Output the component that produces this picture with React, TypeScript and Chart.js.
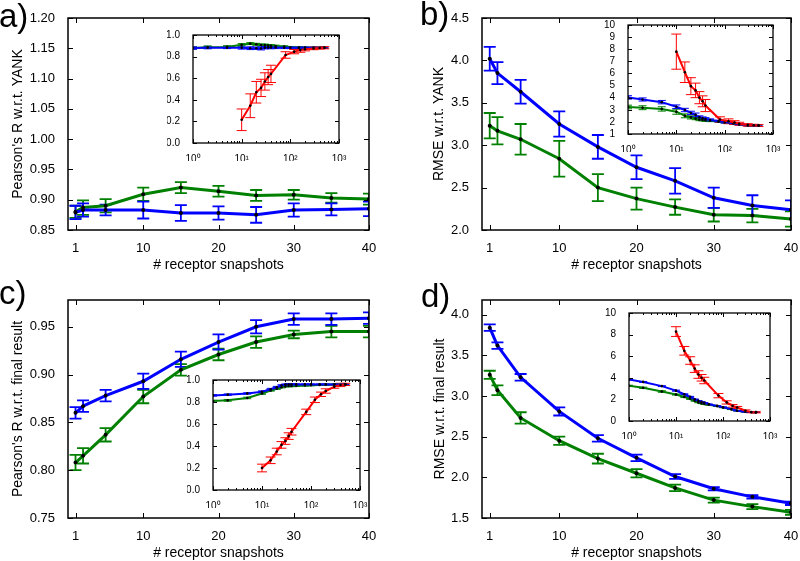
import React, { useEffect, useRef } from 'react';
import { Chart, registerables } from 'chart.js';

Chart.register(...registerables);

const FONT = "'Liberation Sans', Arial, Helvetica, sans-serif";
const BLUE = '#0000ff';
const GREEN = '#008000';
const RED = '#ff0000';

// ---------- shared x values / ticks ----------
const SNAPSHOTS = [1, 2, 5, 10, 15, 20, 25, 30, 35, 40];
const SNAPSHOT_TICKS = [1, 10, 20, 30, 40];
const INSET_X = [1, 2, 5, 10, 15, 20, 25, 30, 35, 40, 50, 75, 100, 150, 200, 300, 500];
const INSET_RED_X = [10, 15, 20, 25, 30, 35, 40, 80, 120, 160, 200, 300, 400, 500];
const LOG_TICKS = [1, 2, 3, 4, 5, 6, 7, 8, 9, 10, 20, 30, 40, 50, 60, 70, 80, 90, 100, 200, 300, 400, 500, 600, 700, 800, 900, 1000];
const SUPERSCRIPTS = ['\u2070', '\u00b9', '\u00b2', '\u00b3'];

// ---------- panel a ----------
const A_GREEN = [0.880, 0.887, 0.890, 0.909, 0.920, 0.914, 0.907, 0.908, 0.903, 0.901];
const A_GREEN_ERR = [0.010, 0.012, 0.011, 0.011, 0.009, 0.009, 0.009, 0.008, 0.008, 0.009];
const A_BLUE = [0.879, 0.883, 0.883, 0.883, 0.878, 0.878, 0.875, 0.883, 0.884, 0.885];
const A_BLUE_ERR = [0.011, 0.011, 0.009, 0.014, 0.013, 0.011, 0.013, 0.011, 0.010, 0.012];
const A_Y_TICKS = [0.85, 0.90, 0.95, 1.00, 1.05, 1.10, 1.15, 1.20];

const A_IN_BLUE = [0.879, 0.883, 0.883, 0.883, 0.878, 0.878, 0.875, 0.883, 0.884, 0.885, 0.884, 0.883, 0.882, 0.882, 0.882, 0.882, 0.882];
const A_IN_BLUE_ERR = [0.011, 0.011, 0.009, 0.014, 0.013, 0.011, 0.013, 0.011, 0.010, 0.012, 0.010, 0.009, 0.008, 0.007, 0.006, 0.005, 0.005];
const A_IN_GREEN = [0.880, 0.887, 0.890, 0.909, 0.920, 0.914, 0.907, 0.908, 0.903, 0.901, 0.898, 0.892, 0.887, 0.884, 0.883, 0.882, 0.882];
const A_IN_GREEN_ERR = [0.010, 0.012, 0.011, 0.011, 0.009, 0.009, 0.009, 0.008, 0.008, 0.009, 0.008, 0.008, 0.007, 0.006, 0.006, 0.005, 0.005];
const A_IN_RED = [0.215, 0.345, 0.470, 0.510, 0.570, 0.610, 0.640, 0.815, 0.846, 0.860, 0.868, 0.876, 0.880, 0.882];
const A_IN_RED_ERR = [0.10, 0.11, 0.10, 0.08, 0.08, 0.07, 0.08, 0.03, 0.02, 0.02, 0.015, 0.012, 0.01, 0.01];
const A_IN_Y_TICKS = [0, 0.2, 0.4, 0.6, 0.8, 1.0];

// ---------- panel b ----------
const B_BLUE = [4.02, 3.85, 3.63, 3.25, 2.98, 2.74, 2.58, 2.38, 2.29, 2.24];
const B_BLUE_ERR = [0.14, 0.13, 0.14, 0.15, 0.14, 0.14, 0.15, 0.12, 0.12, 0.11];
const B_GREEN = [3.23, 3.17, 3.07, 2.84, 2.50, 2.37, 2.27, 2.18, 2.17, 2.13];
const B_GREEN_ERR = [0.15, 0.16, 0.18, 0.21, 0.16, 0.13, 0.09, 0.08, 0.08, 0.09];
const B_Y_TICKS = [2.0, 2.5, 3.0, 3.5, 4.0, 4.5];

const B_IN_BLUE = [4.02, 3.85, 3.63, 3.25, 2.98, 2.74, 2.58, 2.38, 2.29, 2.24, 2.15, 2.05, 1.98, 1.88, 1.80, 1.72, 1.70];
const B_IN_BLUE_ERR = [0.14, 0.13, 0.14, 0.15, 0.14, 0.14, 0.15, 0.12, 0.12, 0.11, 0.10, 0.09, 0.08, 0.07, 0.06, 0.05, 0.05];
const B_IN_GREEN = [3.23, 3.17, 3.07, 2.84, 2.50, 2.37, 2.27, 2.18, 2.17, 2.13, 2.10, 2.04, 1.98, 1.88, 1.80, 1.72, 1.70];
const B_IN_GREEN_ERR = [0.15, 0.16, 0.18, 0.21, 0.16, 0.13, 0.09, 0.08, 0.08, 0.09, 0.08, 0.07, 0.07, 0.06, 0.05, 0.05, 0.05];
const B_IN_RED = [7.8, 6.1, 4.95, 4.6, 4.0, 3.7, 3.35, 2.2, 2.05, 1.95, 1.85, 1.75, 1.72, 1.70];
const B_IN_RED_ERR = [1.45, 0.85, 0.7, 0.6, 0.5, 0.45, 0.5, 0.22, 0.2, 0.15, 0.12, 0.1, 0.08, 0.08];
const B_IN_Y_TICKS = [1, 2, 3, 4, 5, 6, 7, 8, 9, 10];

// ---------- panel c ----------
const C_BLUE = [0.860, 0.867, 0.878, 0.893, 0.916, 0.934, 0.950, 0.958, 0.958, 0.959];
const C_BLUE_ERR = [0.006, 0.006, 0.006, 0.008, 0.008, 0.008, 0.007, 0.006, 0.006, 0.006];
const C_GREEN = [0.808, 0.815, 0.837, 0.877, 0.905, 0.921, 0.934, 0.942, 0.945, 0.945];
const C_GREEN_ERR = [0.008, 0.008, 0.007, 0.007, 0.006, 0.006, 0.006, 0.004, 0.006, 0.006];
const C_Y_TICKS = [0.75, 0.80, 0.85, 0.90, 0.95];

const C_IN_BLUE = [0.860, 0.867, 0.878, 0.893, 0.916, 0.934, 0.950, 0.958, 0.958, 0.959, 0.960, 0.960, 0.960, 0.960, 0.960, 0.960, 0.960];
const C_IN_BLUE_ERR = [0.006, 0.006, 0.006, 0.008, 0.008, 0.008, 0.007, 0.006, 0.006, 0.006, 0.005, 0.005, 0.004, 0.004, 0.004, 0.003, 0.003];
const C_IN_GREEN = [0.808, 0.815, 0.837, 0.877, 0.905, 0.921, 0.934, 0.942, 0.945, 0.945, 0.947, 0.950, 0.952, 0.955, 0.957, 0.958, 0.958];
const C_IN_GREEN_ERR = [0.008, 0.008, 0.007, 0.007, 0.006, 0.006, 0.006, 0.004, 0.006, 0.006, 0.005, 0.005, 0.004, 0.004, 0.004, 0.003, 0.003];
const C_IN_RED = [0.20, 0.27, 0.35, 0.41, 0.445, 0.49, 0.53, 0.71, 0.82, 0.87, 0.90, 0.94, 0.955, 0.96];
const C_IN_RED_ERR = [0.035, 0.03, 0.03, 0.03, 0.03, 0.03, 0.03, 0.025, 0.025, 0.02, 0.02, 0.015, 0.015, 0.01];
const C_IN_Y_TICKS = [0, 0.2, 0.4, 0.6, 0.8, 1.0];

// ---------- panel d ----------
const D_BLUE = [3.84, 3.62, 3.23, 2.81, 2.48, 2.24, 2.01, 1.86, 1.76, 1.68];
const D_BLUE_ERR = [0.04, 0.04, 0.04, 0.05, 0.04, 0.04, 0.03, 0.02, 0.02, 0.02];
const D_GREEN = [3.26, 3.07, 2.73, 2.45, 2.23, 2.05, 1.87, 1.72, 1.64, 1.57];
const D_GREEN_ERR = [0.05, 0.06, 0.07, 0.05, 0.06, 0.05, 0.04, 0.03, 0.03, 0.03];
const D_Y_TICKS = [1.5, 2.0, 2.5, 3.0, 3.5, 4.0];

const D_IN_BLUE = [3.84, 3.62, 3.23, 2.81, 2.48, 2.24, 2.01, 1.86, 1.76, 1.68, 1.55, 1.40, 1.28, 1.10, 0.95, 0.85, 0.82];
const D_IN_BLUE_ERR = [0.04, 0.04, 0.04, 0.05, 0.04, 0.04, 0.03, 0.02, 0.02, 0.02, 0.02, 0.02, 0.02, 0.02, 0.02, 0.02, 0.02];
const D_IN_GREEN = [3.26, 3.07, 2.73, 2.45, 2.23, 2.05, 1.87, 1.72, 1.64, 1.57, 1.50, 1.38, 1.25, 1.08, 0.95, 0.85, 0.82];
const D_IN_GREEN_ERR = [0.05, 0.06, 0.07, 0.05, 0.06, 0.05, 0.04, 0.03, 0.03, 0.03, 0.03, 0.03, 0.02, 0.02, 0.02, 0.02, 0.02];
const D_IN_RED = [8.28, 6.5, 5.6, 4.85, 4.3, 4.0, 3.75, 2.35, 1.72, 1.4, 1.25, 0.95, 0.82, 0.80];
const D_IN_RED_ERR = [0.45, 0.4, 0.35, 0.35, 0.35, 0.3, 0.3, 0.2, 0.15, 0.12, 0.1, 0.08, 0.06, 0.05];
const D_IN_Y_TICKS = [0, 2, 4, 6, 8, 10];

// ---------- helpers ----------
const pts = (xs: number[], ys: number[]) => xs.map((x, i) => ({ x, y: ys[i] }));
const isPow10 = (v: number) => {
  const l = Math.log10(v);
  return Math.abs(l - Math.round(l)) < 1e-6;
};

const framePlugin = {
  id: 'frame',
  beforeDraw(chart: any, _args: any, opts: any) {
    if (!opts || !opts.fill) return;
    const { ctx, chartArea: a } = chart;
    ctx.save();
    ctx.fillStyle = '#ffffff';
    ctx.fillRect(a.left, a.top, a.right - a.left, a.bottom - a.top);
    ctx.restore();
  },
  beforeDatasetsDraw(chart: any) {
    const { ctx, chartArea: a } = chart;
    const ys = chart.scales.y;
    const dsets = chart.data.datasets;
    ctx.save();
    ctx.beginPath();
    ctx.rect(a.left, a.top, a.right - a.left, a.bottom - a.top);
    ctx.clip();
    for (let i = dsets.length - 1; i >= 0; i--) {
      const ds = dsets[i];
      if (!ds.errors) continue;
      const meta = chart.getDatasetMeta(i);
      ctx.strokeStyle = ds.borderColor;
      ctx.lineWidth = ds.errWidth || 1;
      const cap = ds.capHalf || 4;
      meta.data.forEach((pt: any, j: number) => {
        const v = ds.data[j].y;
        const e = ds.errors[j];
        const x = pt.x;
        const y1 = ys.getPixelForValue(v - e);
        const y2 = ys.getPixelForValue(v + e);
        ctx.beginPath();
        ctx.moveTo(x, y1);
        ctx.lineTo(x, y2);
        ctx.moveTo(x - cap, y1);
        ctx.lineTo(x + cap, y1);
        ctx.moveTo(x - cap, y2);
        ctx.lineTo(x + cap, y2);
        ctx.stroke();
      });
    }
    ctx.restore();
  },
  afterDraw(chart: any, _args: any, opts: any) {
    const { ctx, chartArea: a } = chart;
    const xs = chart.scales.x;
    const ys = chart.scales.y;
    const major = opts.major || 5;
    const minor = opts.minor || 2;
    ctx.save();
    ctx.strokeStyle = '#000';
    ctx.lineWidth = 1;
    ctx.beginPath();
    xs.ticks.forEach((t: any) => {
      const p = Math.round(xs.getPixelForValue(t.value)) + 0.5;
      const len = xs.type === 'logarithmic' && !isPow10(t.value) ? minor : major;
      ctx.moveTo(p, a.bottom);
      ctx.lineTo(p, a.bottom - len);
      ctx.moveTo(p, a.top);
      ctx.lineTo(p, a.top + len);
    });
    ys.ticks.forEach((t: any) => {
      const p = Math.round(ys.getPixelForValue(t.value)) + 0.5;
      ctx.moveTo(a.left, p);
      ctx.lineTo(a.left + major, p);
      ctx.moveTo(a.right, p);
      ctx.lineTo(a.right - major, p);
    });
    ctx.stroke();
    ctx.lineWidth = opts.border || 1.5;
    ctx.strokeRect(a.left, a.top, a.right - a.left, a.bottom - a.top);
    ctx.restore();
  },
};

type Box = { l: number; t: number; r: number; b: number };

function ChartCanvas(props: { left: number; top: number; width: number; height: number; z: number; build: () => any }) {
  const ref = useRef<HTMLCanvasElement | null>(null);
  useEffect(() => {
    if (!ref.current) return;
    const chart = new Chart(ref.current, props.build());
    return () => chart.destroy();
  }, []);
  return (
    <canvas
      ref={ref}
      width={props.width}
      height={props.height}
      style={{ position: 'absolute', left: props.left, top: props.top, width: props.width, height: props.height, zIndex: props.z }}
    />
  );
}

type MainSpec = {
  box: Box;
  yW: number;
  yMin: number;
  yMax: number;
  yTicks: number[];
  dec: number;
  yTitle: string;
  blue: number[];
  blueErr: number[];
  green: number[];
  greenErr: number[];
};

const MAIN_XH = 48;
const MAIN_PADT = 10;

function MainPanel({ s }: { s: MainSpec }) {
  const padR = 800 - s.box.r > 30 ? 24 : 800 - s.box.r;
  const width = s.yW + (s.box.r - s.box.l) + padR;
  const height = MAIN_PADT + (s.box.b - s.box.t) + MAIN_XH;
  const build = () => ({
    type: 'line',
    data: {
      datasets: [
        {
          data: pts(SNAPSHOTS, s.blue), errors: s.blueErr, borderColor: BLUE, borderWidth: 3,
          pointRadius: 2, pointBackgroundColor: '#000', pointBorderWidth: 0, errWidth: 1.8, capHalf: 6, tension: 0,
        },
        {
          data: pts(SNAPSHOTS, s.green), errors: s.greenErr, borderColor: GREEN, borderWidth: 3,
          pointRadius: 2, pointBackgroundColor: '#000', pointBorderWidth: 0, errWidth: 1.8, capHalf: 6, tension: 0,
        },
      ],
    },
    options: {
      animation: false,
      responsive: false,
      devicePixelRatio: 1,
      layout: { padding: { left: 0, top: MAIN_PADT, right: padR, bottom: 0 } },
      plugins: { legend: { display: false }, tooltip: { enabled: false }, frame: { major: 5, border: 1.5 } },
      scales: {
        x: {
          type: 'linear', min: 0, max: 40,
          grid: { display: false }, border: { display: false },
          ticks: { autoSkip: false, maxRotation: 0, padding: 3, color: '#000', font: { family: FONT, size: 13 }, callback: (v: number) => String(v) },
          afterBuildTicks: (sc: any) => { sc.ticks = SNAPSHOT_TICKS.map((v) => ({ value: v })); },
          afterFit: (sc: any) => { sc.height = MAIN_XH; sc.paddingLeft = 0; sc.paddingRight = 0; },
          title: { display: true, text: '# receptor snapshots', color: '#000', font: { family: FONT, size: 14 }, padding: { top: 4, bottom: 4 } },
        },
        y: {
          type: 'linear', min: s.yMin, max: s.yMax,
          grid: { display: false }, border: { display: false },
          ticks: { autoSkip: false, padding: 5, color: '#000', font: { family: FONT, size: 13 }, callback: (v: number) => Number(v).toFixed(s.dec) },
          afterBuildTicks: (sc: any) => { sc.ticks = s.yTicks.map((v) => ({ value: v })); },
          afterFit: (sc: any) => { sc.width = s.yW; sc.paddingTop = 0; sc.paddingBottom = 0; },
          title: { display: true, text: s.yTitle, color: '#000', font: { family: FONT, size: 14 }, padding: { top: 4, bottom: 4 } },
        },
      },
    },
    plugins: [framePlugin],
  });
  return <ChartCanvas left={s.box.l - s.yW} top={s.box.t - MAIN_PADT} width={width} height={height} z={1} build={build} />;
}

type InsetSpec = {
  box: Box;
  yMin: number;
  yMax: number;
  yTicks: number[];
  dec: number;
  blue: number[];
  blueErr: number[];
  green: number[];
  greenErr: number[];
  red: number[];
  redErr: number[];
};

const IN_YW = 26;
const IN_XH = 18;
const IN_PADT = 7;
const IN_PADR = 14;

function InsetPanel({ s }: { s: InsetSpec }) {
  const width = IN_YW + (s.box.r - s.box.l) + IN_PADR;
  const height = IN_PADT + (s.box.b - s.box.t) + IN_XH;
  const build = () => ({
    type: 'line',
    data: {
      datasets: [
        {
          data: pts(INSET_RED_X, s.red), errors: s.redErr, borderColor: RED, borderWidth: 2,
          pointRadius: 1.3, pointBackgroundColor: '#000', pointBorderWidth: 0, errWidth: 1, capHalf: 5, tension: 0,
        },
        {
          data: pts(INSET_X, s.blue), errors: s.blueErr, borderColor: BLUE, borderWidth: 2,
          pointRadius: 1.3, pointBackgroundColor: '#000', pointBorderWidth: 0, errWidth: 1, capHalf: 4, tension: 0,
        },
        {
          data: pts(INSET_X, s.green), errors: s.greenErr, borderColor: GREEN, borderWidth: 2,
          pointRadius: 1.3, pointBackgroundColor: '#000', pointBorderWidth: 0, errWidth: 1, capHalf: 4, tension: 0,
        },
      ],
    },
    options: {
      animation: false,
      responsive: false,
      devicePixelRatio: 1,
      layout: { padding: { left: 0, top: IN_PADT, right: IN_PADR, bottom: 0 } },
      plugins: { legend: { display: false }, tooltip: { enabled: false }, frame: { major: 4, minor: 2, border: 1.3, fill: true } },
      scales: {
        x: {
          type: 'logarithmic', min: 1, max: 1000,
          grid: { display: false }, border: { display: false },
          ticks: {
            autoSkip: false, maxRotation: 0, padding: 2, color: '#000', font: { family: FONT, size: 10 },
            callback: (v: number) => (isPow10(v) ? '10' + SUPERSCRIPTS[Math.round(Math.log10(v))] : ''),
          },
          afterBuildTicks: (sc: any) => { sc.ticks = LOG_TICKS.map((v) => ({ value: v })); },
          afterFit: (sc: any) => { sc.height = IN_XH; sc.paddingLeft = 0; sc.paddingRight = 0; },
        },
        y: {
          type: 'linear', min: s.yMin, max: s.yMax,
          grid: { display: false }, border: { display: false },
          ticks: { autoSkip: false, padding: 5, color: '#000', font: { family: FONT, size: 10 }, callback: (v: number) => Number(v).toFixed(s.dec) },
          afterBuildTicks: (sc: any) => { sc.ticks = s.yTicks.map((v) => ({ value: v })); },
          afterFit: (sc: any) => { sc.width = IN_YW; sc.paddingTop = 0; sc.paddingBottom = 0; },
        },
      },
    },
    plugins: [framePlugin],
  });
  return <ChartCanvas left={s.box.l - IN_YW} top={s.box.t - IN_PADT} width={width} height={height} z={2} build={build} />;
}

const labelStyle = (left: number, top: number): React.CSSProperties => ({
  position: 'absolute', left, top, fontFamily: FONT, fontSize: 33, lineHeight: 1, color: '#000', zIndex: 3,
});

export default function App() {
  return (
    <div style={{ position: 'absolute', left: 0, top: 0, width: 800, height: 561, background: '#fff', overflow: 'hidden' }}>
      <MainPanel s={{ box: { l: 68, t: 18, r: 369, b: 230 }, yW: 62, yMin: 0.85, yMax: 1.2, yTicks: A_Y_TICKS, dec: 2, yTitle: "Pearson's R w.r.t. YANK", blue: A_BLUE, blueErr: A_BLUE_ERR, green: A_GREEN, greenErr: A_GREEN_ERR }} />
      <MainPanel s={{ box: { l: 482, t: 18, r: 791, b: 230 }, yW: 55, yMin: 2.0, yMax: 4.5, yTicks: B_Y_TICKS, dec: 1, yTitle: 'RMSE w.r.t. YANK', blue: B_BLUE, blueErr: B_BLUE_ERR, green: B_GREEN, greenErr: B_GREEN_ERR }} />
      <MainPanel s={{ box: { l: 68, t: 300, r: 369, b: 518 }, yW: 62, yMin: 0.75, yMax: 0.978, yTicks: C_Y_TICKS, dec: 2, yTitle: "Pearson's R w.r.t. final result", blue: C_BLUE, blueErr: C_BLUE_ERR, green: C_GREEN, greenErr: C_GREEN_ERR }} />
      <MainPanel s={{ box: { l: 482, t: 300, r: 791, b: 518 }, yW: 54, yMin: 1.5, yMax: 4.18, yTicks: D_Y_TICKS, dec: 1, yTitle: 'RMSE w.r.t. final result', blue: D_BLUE, blueErr: D_BLUE_ERR, green: D_GREEN, greenErr: D_GREEN_ERR }} />
      <InsetPanel s={{ box: { l: 193, t: 35, r: 339, b: 143 }, yMin: 0, yMax: 1, yTicks: A_IN_Y_TICKS, dec: 1, blue: A_IN_BLUE, blueErr: A_IN_BLUE_ERR, green: A_IN_GREEN, greenErr: A_IN_GREEN_ERR, red: A_IN_RED, redErr: A_IN_RED_ERR }} />
      <InsetPanel s={{ box: { l: 628, t: 25, r: 773, b: 134 }, yMin: 1, yMax: 10, yTicks: B_IN_Y_TICKS, dec: 0, blue: B_IN_BLUE, blueErr: B_IN_BLUE_ERR, green: B_IN_GREEN, greenErr: B_IN_GREEN_ERR, red: B_IN_RED, redErr: B_IN_RED_ERR }} />
      <InsetPanel s={{ box: { l: 213, t: 380, r: 360, b: 490 }, yMin: 0, yMax: 1, yTicks: C_IN_Y_TICKS, dec: 1, blue: C_IN_BLUE, blueErr: C_IN_BLUE_ERR, green: C_IN_GREEN, greenErr: C_IN_GREEN_ERR, red: C_IN_RED, redErr: C_IN_RED_ERR }} />
      <InsetPanel s={{ box: { l: 629, t: 313, r: 770, b: 421 }, yMin: 0, yMax: 10, yTicks: D_IN_Y_TICKS, dec: 0, blue: D_IN_BLUE, blueErr: D_IN_BLUE_ERR, green: D_IN_GREEN, greenErr: D_IN_GREEN_ERR, red: D_IN_RED, redErr: D_IN_RED_ERR }} />
      <div style={labelStyle(-1, -1)}>a)</div>
      <div style={labelStyle(420, -3)}>b)</div>
      <div style={labelStyle(-1, 276)}>c)</div>
      <div style={labelStyle(421, 279)}>d)</div>
    </div>
  );
}
